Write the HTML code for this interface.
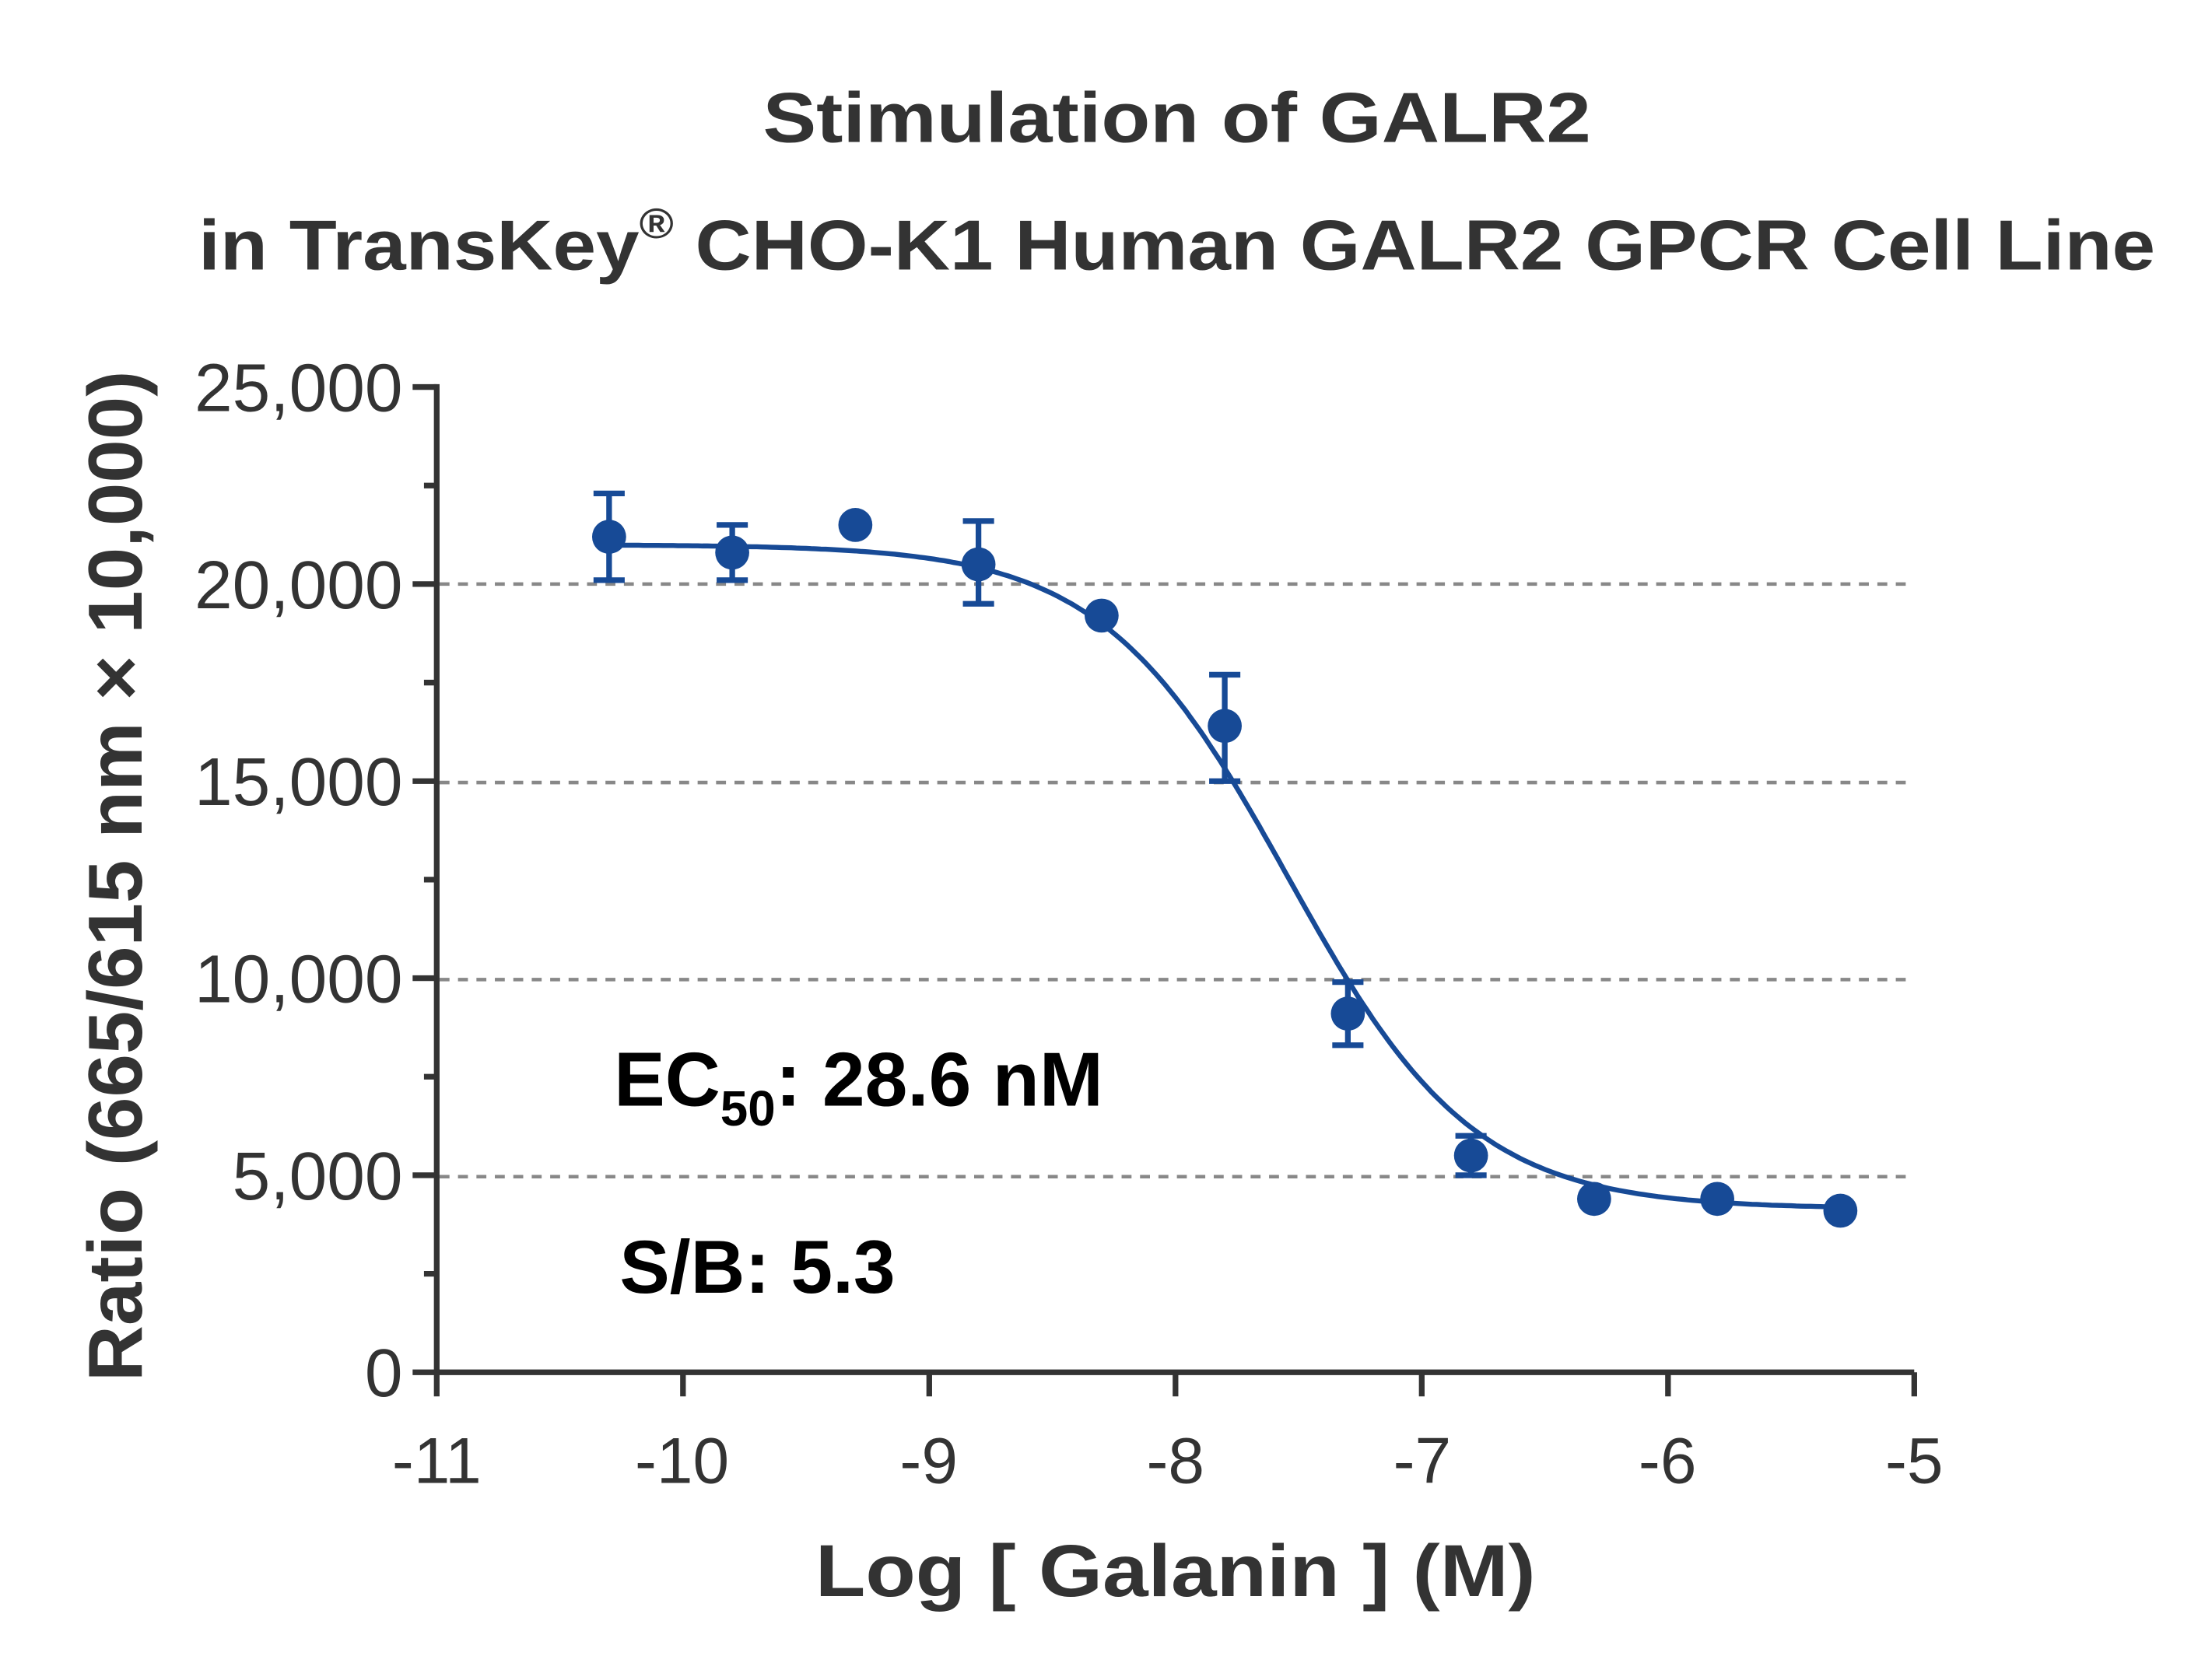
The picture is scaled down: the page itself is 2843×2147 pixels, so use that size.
<!DOCTYPE html>
<html><head><meta charset="utf-8"><style>
html,body{margin:0;padding:0;background:#fff;}
svg{display:block;}
text{font-family:"Liberation Sans",Arial,sans-serif;}
</style></head><body>
<svg id="s" width="2843" height="2147" viewBox="0 0 1560 1178" preserveAspectRatio="none" xmlns="http://www.w3.org/2000/svg">
<rect width="1560" height="1178" fill="#fff"/>
<g fill="#333" font-weight="bold" font-size="50">
<text x="538" y="100" textLength="584" lengthAdjust="spacingAndGlyphs">Stimulation of  GALR2</text>
<text x="140" y="190" textLength="1380" lengthAdjust="spacingAndGlyphs">in TransKey<tspan font-size="30" dy="-22">®</tspan><tspan dy="22"> CHO-K1 Human GALR2 GPCR Cell Line</tspan></text>
</g>
<g stroke="#888" stroke-width="2.5" stroke-dasharray="7,6">
<line x1="310" y1="412" x2="1344" y2="412"/>
<line x1="310" y1="552" x2="1344" y2="552"/>
<line x1="310" y1="691" x2="1344" y2="691"/>
<line x1="310" y1="830" x2="1344" y2="830"/>
</g>
<g stroke="#333" stroke-width="4" fill="none" id="axes">
<line x1="308" y1="271" x2="308" y2="970"/>
<line x1="306" y1="968" x2="1350" y2="968"/>
</g>
<g fill="#333" font-size="48" text-anchor="end">
<text x="284" y="290">25,000</text>
<text x="284" y="429">20,000</text>
<text x="284" y="568">15,000</text>
<text x="284" y="707">10,000</text>
<text x="284" y="846">5,000</text>
<text x="284" y="985">0</text>
</g>
<g fill="#333" font-size="46" text-anchor="middle">
<text x="308" y="1046">-11</text>
<text x="481" y="1046">-10</text>
<text x="655" y="1046">-9</text>
<text x="829" y="1046">-8</text>
<text x="1003" y="1046">-7</text>
<text x="1176" y="1046">-6</text>
<text x="1350" y="1046">-5</text>
</g>
<text x="575" y="1126" fill="#333" font-size="52" font-weight="bold" textLength="508" lengthAdjust="spacingAndGlyphs">Log [ Galanin ]  (M)</text>
<text transform="translate(100,618) rotate(-90)" fill="#333" font-size="54" font-weight="bold" text-anchor="middle" textLength="713" lengthAdjust="spacingAndGlyphs">Ratio (665/615 nm × 10,000)</text>
<text x="433" y="780" font-size="54" font-weight="bold" fill="#000">EC<tspan font-size="35" dy="14">50</tspan><tspan dy="-14">: 28.6 nM</tspan></text>
<text x="437" y="912" font-size="53" font-weight="bold" fill="#000">S/B: 5.3</text>
<g id="data"></g>
</svg>
<script>
var s=document.getElementById('s'),ns="http://www.w3.org/2000/svg";
function X(v){return 308+(v+11)*173.67;}
function Y(v){return 968-v*0.0278;}
function el(t,a,p){var e=document.createElementNS(ns,t);for(var k in a)e.setAttribute(k,a[k]);(p||s).appendChild(e);return e;}
var ax=document.getElementById('axes');
for(var i=0;i<=10;i++){var y=968-i*69.5;el('line',{x1:i%2?299:291,y1:y,x2:308,y2:y},ax);}
for(var i=0;i<=6;i++){var x=308+i*173.67;el('line',{x1:x,y1:968,x2:x,y2:985},ax);}
var d="";
for(var v=-10.3;v<=-5.29;v+=0.02){var yv=4150+(21000-4150)/(1+Math.pow(10,(v+7.544)*1.15));d+=(d?"L":"M")+X(v).toFixed(1)+","+Y(yv).toFixed(1);}
var g=document.getElementById('data');
el('path',{d:d,stroke:"#174a96","stroke-width":3.5,fill:"none"},g);
var pts=[[-10.3,21200,22300,20100],[-9.8,20800,21500,20100],[-9.3,21500],[-8.8,20500,21600,19500],[-8.3,19200],[-7.8,16400,17700,15000],[-7.3,9100,9900,8300],[-6.8,5500,6000,5000],[-6.3,4400],[-5.8,4400],[-5.3,4100]];
pts.forEach(function(p){var x=X(p[0]);
if(p[2]){var a=Y(p[2]),b=Y(p[3]);el('path',{d:"M"+x+","+a+"V"+b+"M"+(x-11)+","+a+"H"+(x+11)+"M"+(x-11)+","+b+"H"+(x+11),stroke:"#174a96","stroke-width":4,fill:"none"},g);}
el('circle',{cx:x,cy:Y(p[1]),r:12,fill:"#174a96"},g);});
</script>
</body></html>
